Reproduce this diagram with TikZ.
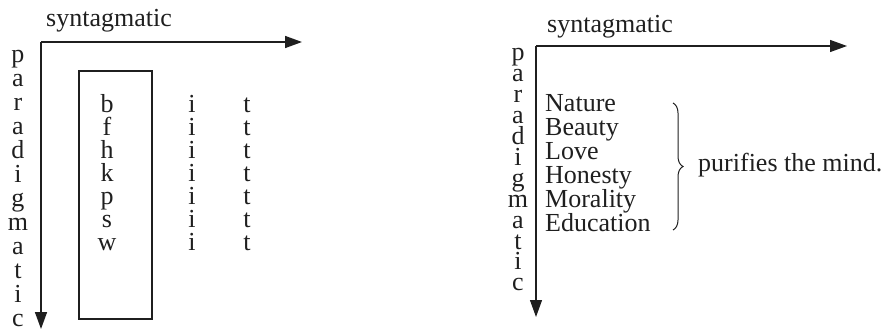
\documentclass[tikz,border=0pt]{standalone}
\usepackage{fontspec}
\setmainfont{Liberation Serif}
\usetikzlibrary{arrows.meta,decorations.pathreplacing}
% a column of centred items, a fixed distance between baselines
\newcommand\cstack[2]{\vtop{\baselineskip=#1\relax\lineskiplimit=-100pt\relax\lineskip=0pt\relax
  \foreach \s in {#2}{\hbox to 0pt{\hss\s\hss}}}}
% a column of left-aligned items, a fixed distance between baselines
\newcommand\lstack[2]{\vtop{\baselineskip=#1\relax\lineskiplimit=-100pt\relax\lineskip=0pt\relax
  \foreach \s in {#2}{\hbox{\s}}}}
\begin{document}
\begin{tikzpicture}[x=1pt,y=-1pt,
  txt/.style={inner sep=0pt,anchor=base,text=black!88,font=\fontsize{26}{26}\selectfont},
  axis/.style={line width=1.5pt,draw=black!88,-{Triangle[length=17pt,width=12pt]}},
  frame/.style={draw=black!88,line width=1.3pt,inner sep=0pt}]
\useasboundingbox (0,0) rectangle (886,329);

% ---------- left: substitution in a word slot ----------
\coordinate (lo) at (41,42);
\coordinate (lx) at (302,42);
\coordinate (ly) at (41,329);
\draw[axis] (lo) -- (lx);
\draw[axis] (lo) -- (ly);
\node[txt,anchor=base west] (lsyn) at (46,27) {syntagmatic};
\node[txt] (lpara) at (18,63) {\cstack{24pt}{p,a,r,a,d,i,g,m,a,t,i,c}};

\node[frame,minimum width=73pt,minimum height=248pt] (box) at (115.5,195) {};
\node[txt] (first) at (107,112) {\cstack{23.1pt}{b,f,h,k,p,s,w}};
\node[txt] (mid)   at (192,112) {\cstack{23.1pt}{i,i,i,i,i,i,i}};
\node[txt] (last)  at (247,112) {\cstack{23.1pt}{t,t,t,t,t,t,t}};

% ---------- right: substitution in a sentence slot ----------
\coordinate (ro) at (536,46);
\coordinate (rx) at (847,46);
\coordinate (ry) at (536,317);
\draw[axis,line width=1.2pt] (ro) -- (rx);
\draw[axis,line width=1.2pt] (ro) -- (ry);
\node[txt,anchor=base west] (rsyn) at (547,33) {syntagmatic};
\node[txt] (rpara) at (518,61) {\cstack{20.9pt}{p,a,r,a,d,i,g,m,a,t,i,c}};

\node[txt,anchor=base west] (words) at (545,111)
  {\lstack{24pt}{Nature,Beauty,Love,Honesty,Morality,Education}};

\coordinate (bt) at (673,103);
\coordinate (bb) at (673,230);
\draw[draw=black!88,line width=1pt,decorate,decoration={brace,amplitude=10pt}] (bt) -- (bb);
\node[txt,anchor=base west] (pred) at (698,171) {purifies the mind.};
\end{tikzpicture}
\end{document}
